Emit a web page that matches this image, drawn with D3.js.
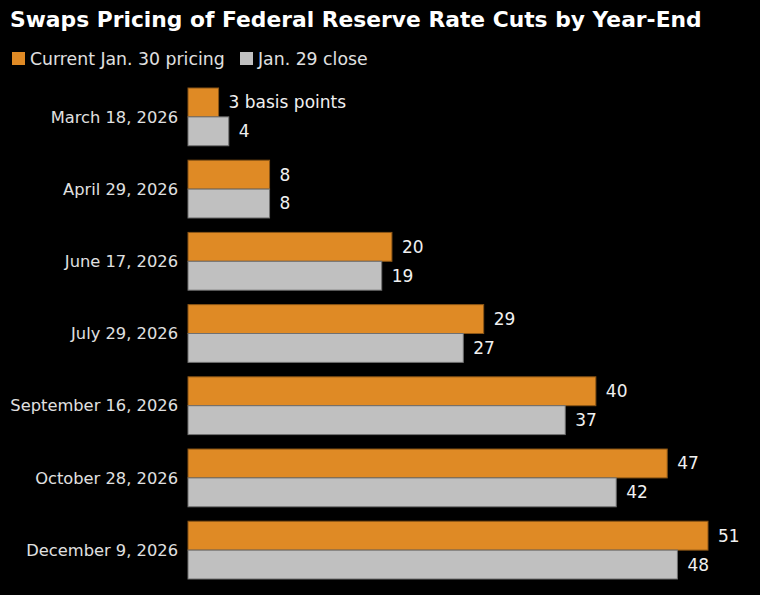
<!DOCTYPE html>
<html>
<head>
<meta charset="utf-8">
<script src="https://cdn.jsdelivr.net/npm/d3@7"></script>
<style>
  body { margin: 0; background: #000; }
  svg text { font-family: "DejaVu Sans", sans-serif; }
</style>
</head>
<body>
<div id="chart"></div>
<script>
// data
var meetings = ["March 18, 2026", "April 29, 2026", "June 17, 2026", "July 29, 2026",
                "September 16, 2026", "October 28, 2026", "December 9, 2026"];
var current = [3, 8, 20, 29, 40, 47, 51];
var previous = [4, 8, 19, 27, 37, 42, 48];
var seriesNames = ["Current Jan. 30 pricing", "Jan. 29 close"];
var seriesColors = ["#df8a25", "#c0c0c0"];
var seriesStroke = ["#8a5516", "#707070"];

var width = 760, height = 595;
var margin = { top: 88, right: 20, bottom: 16, left: 188 };

var svg = d3.select("#chart").append("svg")
  .attr("width", width)
  .attr("height", height)
  .style("background", "#000");

// title
svg.append("text")
  .attr("x", 10).attr("y", 27)
  .attr("fill", "#fff")
  .attr("font-size", 21.8)
  .attr("font-weight", "bold")
  .text("Swaps Pricing of Federal Reserve Rate Cuts by Year-End");

// legend
var legX = [12, 240];
seriesNames.forEach(function (name, i) {
  svg.append("rect")
    .attr("x", legX[i]).attr("y", 52)
    .attr("width", 13).attr("height", 13)
    .attr("fill", seriesColors[i]);
  svg.append("text")
    .attr("x", legX[i] + 18).attr("y", 65)
    .attr("fill", "#e0e0e0")
    .attr("font-size", 17.3)
    .text(name);
});

var data = meetings.map(function (m, i) {
  return { name: m, vals: [current[i], previous[i]] };
});

var y = d3.scaleBand()
  .domain(meetings)
  .range([margin.top, height - margin.bottom])
  .paddingInner(0.2)
  .paddingOuter(0);

var x = d3.scaleLinear()
  .domain([0, 51])
  .range([margin.left, 708]);

var sub = d3.scaleBand()
  .domain([0, 1])
  .range([0, y.bandwidth()]);

var g = svg.append("g");

var groups = g.selectAll("g.row")
  .data(data)
  .enter().append("g")
  .attr("class", "row")
  .attr("transform", function (d) { return "translate(0," + y(d.name) + ")"; });

// category labels
groups.append("text")
  .attr("x", margin.left - 10)
  .attr("y", y.bandwidth() / 2)
  .attr("dy", "0.35em")
  .attr("text-anchor", "end")
  .attr("fill", "#e0e0e0")
  .attr("font-size", 16.3)
  .text(function (d) { return d.name; });

groups.selectAll("rect")
  .data(function (d) { return d.vals; })
  .enter().append("rect")
  .attr("x", x(0))
  .attr("y", function (d, i) { return sub(i); })
  .attr("width", function (d) { return x(d) - x(0); })
  .attr("height", sub.bandwidth())
  .attr("fill", function (d, i) { return seriesColors[i]; })
  .attr("stroke", function (d, i) { return seriesStroke[i]; })
  .attr("stroke-width", 1);

groups.selectAll("text.val")
  .data(function (d, gi) { return d.vals.map(function (v) { return { v: v, gi: gi }; }); })
  .enter().append("text")
  .attr("class", "val")
  .attr("x", function (d) { return x(d.v) + 10; })
  .attr("y", function (d, i) { return sub(i) + sub.bandwidth() / 2; })
  .attr("dy", "0.35em")
  .attr("fill", "#f0f0f0")
  .attr("font-size", 17)
  .text(function (d, i) { return (d.gi === 0 && i === 0) ? d.v + " basis points" : d.v; });
</script>
</body>
</html>
